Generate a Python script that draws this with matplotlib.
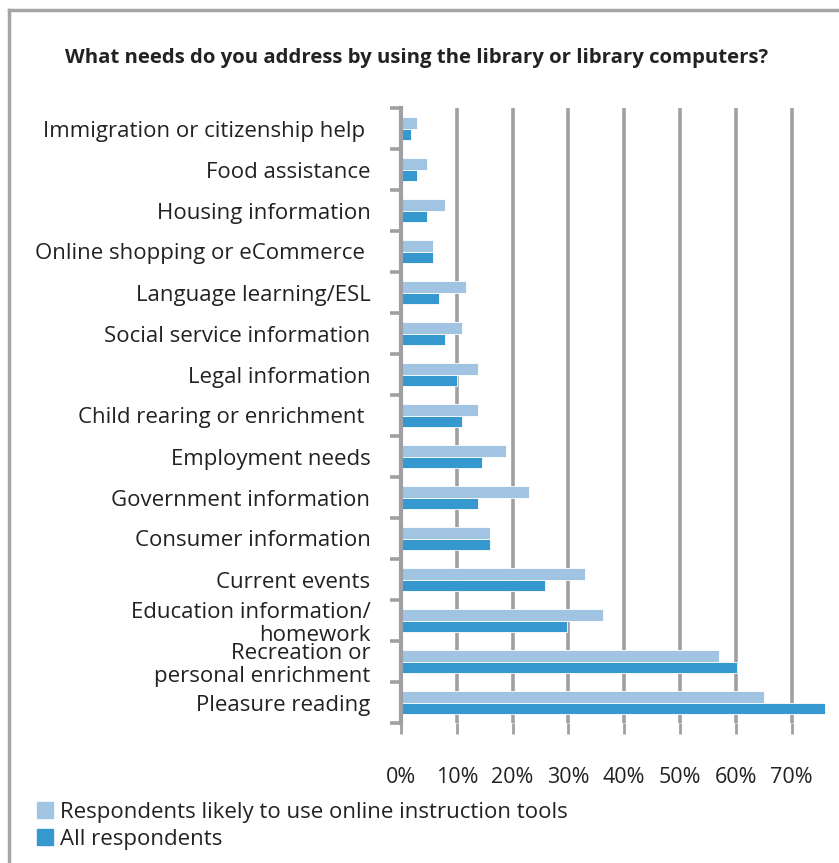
import matplotlib.pyplot as plt
import numpy as np
from matplotlib.lines import Line2D
from matplotlib.patches import Patch

plt.rcParams['font.family'] = ['Open Sans', 'DejaVu Sans']

# categories listed bottom-up
categories = [
    'Pleasure reading',
    'Recreation or\npersonal enrichment',
    'Education information/\nhomework',
    'Current events',
    'Consumer information',
    'Government information',
    'Employment needs',
    'Child rearing or enrichment ',
    'Legal information',
    'Social service information',
    'Language learning/ESL',
    'Online shopping or eCommerce ',
    'Housing information',
    'Food assistance',
    'Immigration or citizenship help ',
]
online_tools = [65, 57, 36.2, 33, 16, 23, 18.8, 13.8, 13.8, 11, 11.6, 5.7, 7.9, 4.7, 2.9]
all_resp = [76, 60.2, 29.8, 25.8, 16, 13.8, 14.5, 11, 10, 7.9, 6.8, 5.7, 4.7, 2.9, 1.8]
xticks = [0, 10, 20, 30, 40, 50, 60, 70]

light = '#A0C4E2'
dark = '#3598CF'
grey = '#A0A0A4'
txt = '#222222'

W, H = 839, 863
fig = plt.figure(figsize=(W / 100, H / 100), dpi=100)
ax = fig.add_axes([401 / W, 140 / H, (W - 401) / W, 615 / H])

y = np.arange(len(categories))
h = 0.28
ax.barh(y + 0.13, online_tools, height=h, color=light, edgecolor='white', linewidth=0.6, zorder=3)
ax.barh(y - 0.15, all_resp, height=h, color=dark, edgecolor='white', linewidth=0.6, zorder=3)

ax.set_xlim(0, (W - 401) / 5.58)
ax.set_ylim(-0.5, len(categories) - 0.5)

for x in xticks[1:]:
    ax.axvline(x, color=grey, lw=2.6, zorder=1)

ax.set_xticks(xticks)
ax.set_xticklabels([f'{v}%' for v in xticks], fontsize=15.5, color=txt)
ax.tick_params(axis='x', length=8, width=2, color=grey, pad=24)

ax.set_yticks(np.arange(len(categories) + 1) - 0.5)
ax.set_yticklabels([])
ax.set_yticks(y, minor=True)
ax.set_yticklabels(categories, minor=True, fontsize=16, color=txt, linespacing=1.1)
ax.tick_params(axis='y', which='major', length=8, width=2.6, color=grey)
ax.tick_params(axis='y', which='minor', length=0, pad=22)

for s in ['top', 'right', 'bottom']:
    ax.spines[s].set_visible(False)
ax.spines['left'].set_color(grey)
ax.spines['left'].set_linewidth(3)
ax.spines['left'].set_zorder(4)

fig.text(417 / W, 1 - 58 / H, 'What needs do you address by using the library or library computers?',
         ha='center', va='center', fontsize=14.7, fontweight='bold', color=txt)

handles = [Patch(color=light), Patch(color=dark)]
fig.legend(handles, ['Respondents likely to use online instruction tools', 'All respondents'],
           loc='upper left', bbox_to_anchor=(17 / W, 1 - 782 / H), frameon=False,
           fontsize=16, handlelength=0.7, handleheight=0.7, handletextpad=0.35,
           labelspacing=0.25, labelcolor=txt)

# outer frame (left and top edges visible)
fig.add_artist(Line2D([9 / W, 9 / W], [0, 1 - 10 / H], color='#A6A6A6', lw=2.5))
fig.add_artist(Line2D([9 / W, 1], [1 - 10 / H, 1 - 10 / H], color='#A6A6A6', lw=2.5))

fig.savefig('out.png', dpi=100)
